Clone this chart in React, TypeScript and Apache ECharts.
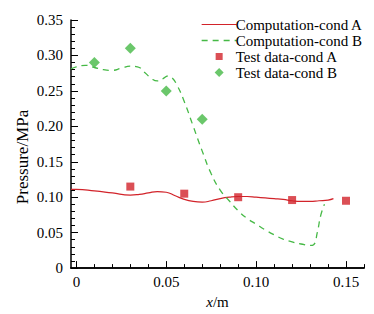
import React, { useEffect, useRef } from "react";
import * as echarts from "echarts";

const compA: [number, number][] = [
  [-0.003, 0.111], [0, 0.111], [0.01, 0.109], [0.02, 0.106], [0.03, 0.103], [0.035, 0.104],
  [0.04, 0.106], [0.045, 0.108], [0.05, 0.107], [0.055, 0.102], [0.06, 0.097], [0.065, 0.094],
  [0.07, 0.093], [0.075, 0.095], [0.08, 0.098], [0.085, 0.1], [0.09, 0.101], [0.095, 0.101],
  [0.1, 0.1], [0.105, 0.099], [0.11, 0.098], [0.115, 0.097], [0.12, 0.095], [0.125, 0.094],
  [0.13, 0.094], [0.135, 0.095], [0.14, 0.096], [0.143, 0.098],
];
const compB: [number, number][] = [
  [-0.003, 0.281], [0, 0.284], [0.005, 0.286], [0.01, 0.283], [0.015, 0.28], [0.02, 0.279],
  [0.025, 0.282], [0.03, 0.285], [0.034, 0.284], [0.038, 0.276], [0.042, 0.267], [0.045, 0.264],
  [0.048, 0.267], [0.051, 0.271], [0.053, 0.269], [0.056, 0.258], [0.06, 0.235], [0.065, 0.2],
  [0.07, 0.165], [0.075, 0.133], [0.08, 0.11], [0.085, 0.095], [0.09, 0.081], [0.095, 0.07],
  [0.1, 0.062], [0.105, 0.054], [0.11, 0.047], [0.115, 0.041], [0.12, 0.037], [0.125, 0.034],
  [0.13, 0.032], [0.132, 0.033], [0.134, 0.05], [0.136, 0.075], [0.138, 0.09],
];
const testA: [number, number][] = [
  [0.03, 0.115], [0.06, 0.105], [0.09, 0.1], [0.12, 0.096], [0.15, 0.095],
];
const testB: [number, number][] = [
  [0.01, 0.29], [0.03, 0.31], [0.05, 0.25], [0.07, 0.21],
];
const xMajor = [0, 0.05, 0.1, 0.15];
const xMinor = [0, 0.01, 0.02, 0.03, 0.04, 0.05, 0.06, 0.07, 0.08, 0.09, 0.1, 0.11, 0.12, 0.13, 0.14, 0.15, 0.16];

const RED = "#d2232a";
const GREEN = "#46b946";
const FONT = "Liberation Serif";
const FS = 15;

// legend icons: bounding box spans the full 35x10 legend item so that the mark keeps its size
const ICON_SQUARE = "path://M0,5L0.001,5ZM35,5L34.999,5ZM14,1.5L21,1.5L21,8.5L14,8.5Z";
const ICON_DIAMOND = "path://M0,5L0.001,5ZM35,5L34.999,5ZM17.5,0.5L22,5L17.5,9.5L13,5Z";

export default function App() {
  const ref = useRef<HTMLDivElement>(null);
  useEffect(() => {
    if (!ref.current) return;
    const chart = echarts.init(ref.current, undefined, { renderer: "svg" });
    const xCommon = {
      type: "value" as const,
      min: -0.003,
      max: 0.16,
      position: "bottom" as const,
      splitLine: { show: false },
      axisLine: { show: true, onZero: false, lineStyle: { color: "#000", width: 1.5 } },
    };
    const hide = { opacity: 0 };
    chart.setOption({
      animation: false,
      textStyle: { fontFamily: FONT },
      grid: { left: 71, right: 10, top: 20, bottom: 35, containLabel: false },
      legend: {
        orient: "vertical",
        left: 196,
        top: 12,
        itemWidth: 35,
        itemHeight: 10,
        itemGap: 1,
        textStyle: { fontFamily: FONT, fontSize: FS, color: "#000", padding: [0, 0, 0, -6] },
        data: [
          { name: "Computation-cond A", itemStyle: hide, lineStyle: { width: 1 } },
          { name: "Computation-cond B", itemStyle: hide, lineStyle: { width: 1.3 } },
          { name: "Test data-cond A", icon: ICON_SQUARE },
          { name: "Test data-cond B", icon: ICON_DIAMOND },
        ],
      },
      xAxis: [
        {
          ...xCommon,
          axisTick: { show: true, inside: true, length: 4, customValues: xMinor, lineStyle: { color: "#000" } },
          axisLabel: { show: false },
        },
        {
          ...xCommon,
          axisTick: { show: true, inside: true, length: 7, customValues: xMajor, lineStyle: { color: "#000" } },
          axisLabel: {
            show: true,
            customValues: xMajor,
            margin: 6,
            fontFamily: FONT,
            fontSize: FS,
            color: "#000",
            formatter: (v: number) => (v === 0 ? "0" : v.toFixed(2)),
          },
          name: "{i|x}/m",
          nameLocation: "middle",
          nameGap: 25,
          nameTextStyle: {
            fontFamily: FONT,
            fontSize: FS,
            color: "#000",
            rich: { i: { fontStyle: "italic", fontFamily: FONT, fontSize: FS, color: "#000" } },
          },
        },
      ],
      yAxis: {
        type: "value",
        min: 0,
        max: 0.35,
        interval: 0.05,
        splitLine: { show: false },
        axisLine: { show: true, onZero: false, lineStyle: { color: "#000", width: 1.5 } },
        axisTick: { show: true, inside: true, length: 7, lineStyle: { color: "#000" } },
        minorTick: { show: true, splitNumber: 5, length: 4, lineStyle: { color: "#000" } },
        minorSplitLine: { show: false },
        axisLabel: {
          margin: 8,
          fontFamily: FONT,
          fontSize: FS,
          color: "#000",
          formatter: (v: number) => (v === 0 ? "0" : v.toFixed(2)),
        },
      },
      graphic: [
        {
          type: "text",
          x: 22,
          y: 157,
          rotation: Math.PI / 2,
          style: {
            text: "Pressure/MPa",
            fontFamily: FONT,
            fontSize: 17,
            fill: "#000",
            align: "center",
            verticalAlign: "middle",
          },
        },
      ],
      series: [
        {
          name: "Computation-cond A",
          type: "line",
          xAxisIndex: 0,
          data: compA,
          smooth: true,
          symbol: "none",
          lineStyle: { color: RED, width: 1.2 },
          itemStyle: { color: RED },
        },
        {
          name: "Computation-cond B",
          type: "line",
          xAxisIndex: 0,
          data: compB,
          smooth: true,
          symbol: "none",
          lineStyle: { color: GREEN, width: 1.3, type: [6, 5] },
          itemStyle: { color: GREEN },
        },
        {
          name: "Test data-cond A",
          type: "scatter",
          xAxisIndex: 0,
          data: testA,
          symbol: "rect",
          symbolSize: 8,
          itemStyle: { color: RED },
        },
        {
          name: "Test data-cond B",
          type: "scatter",
          xAxisIndex: 0,
          data: testB,
          symbol: "diamond",
          symbolSize: 11,
          itemStyle: { color: GREEN },
        },
      ],
    });
    return () => chart.dispose();
  }, []);
  return <div ref={ref} style={{ width: 374, height: 314, position: "absolute", left: 0, top: 0 }} />;
}
